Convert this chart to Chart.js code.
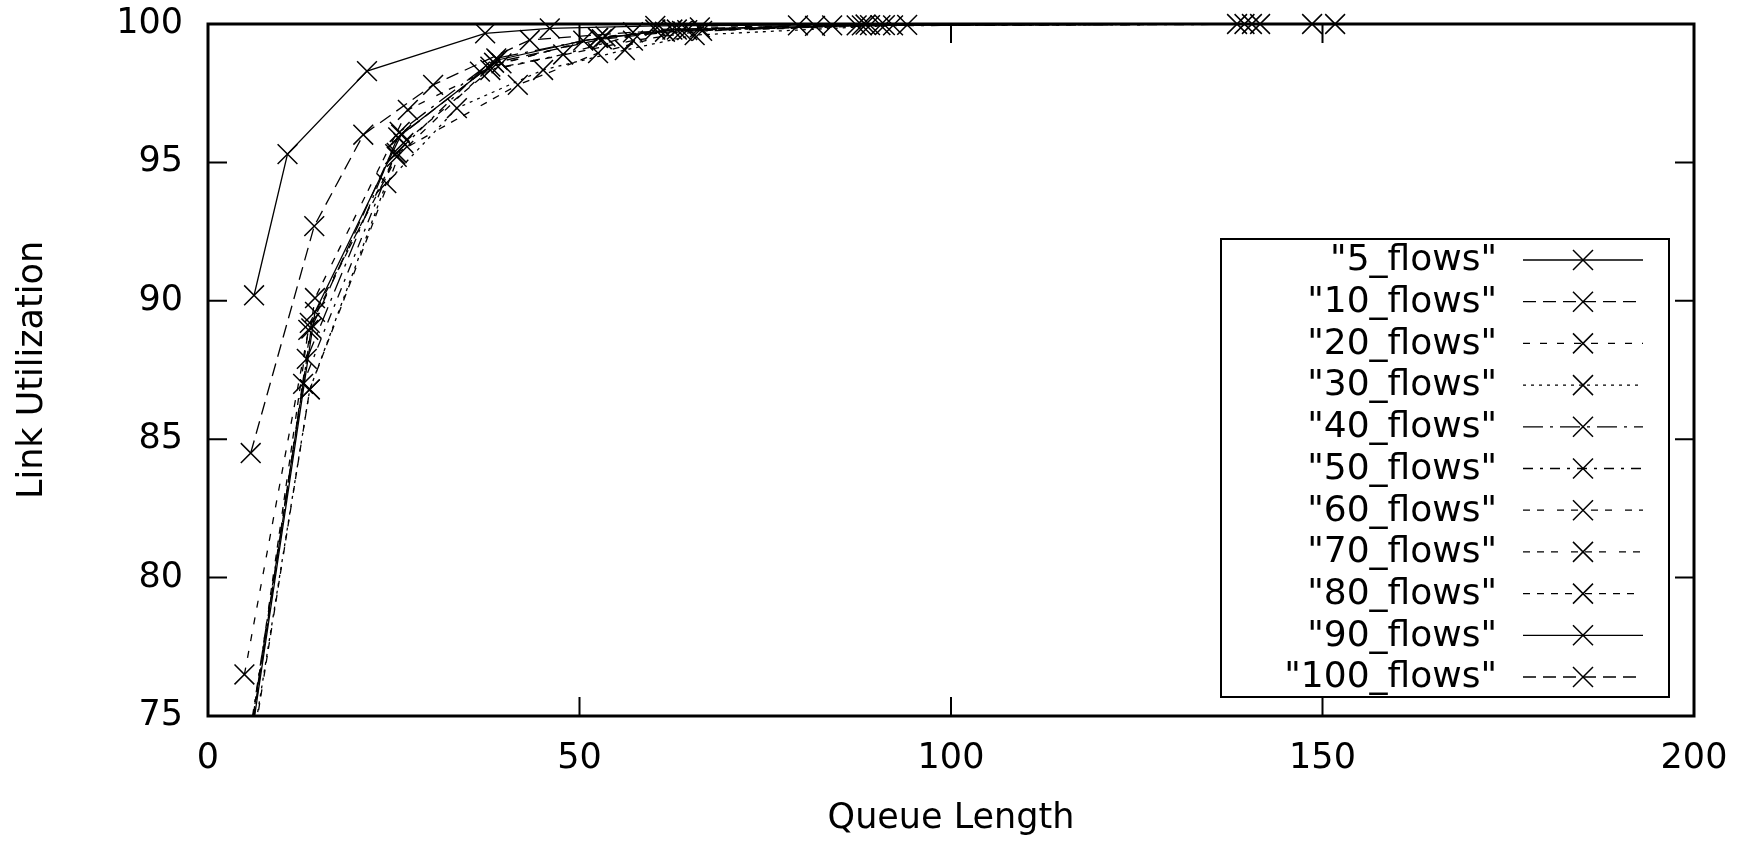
<!DOCTYPE html>
<html>
<head>
<meta charset="utf-8">
<title>Link Utilization</title>
<script src="https://cdn.jsdelivr.net/npm/chart.js@4.4.1/dist/chart.umd.min.js"></script>
<style>
  body { margin: 0; background: #fff; }
  #wrap { width: 1748px; height: 843px; position: relative; }
</style>
</head>
<body>
<div id="wrap"><canvas id="util_graph"></canvas></div>
<script>
  // queue length (q) and link utilization (u), one pair per run
  const q5 = [6.2, 10.7, 21.4, 37.3, 46.0, 60.2, 88.5, 141.6];
  const u5 = [90.2, 95.3, 98.3, 99.66, 99.84, 99.93, 99.98, 100];

  const q10 = [5.75, 14.3, 20.9, 30.3, 43.3, 57.2, 79.4, 139.5];
  const u10 = [84.5, 92.7, 96.0, 97.8, 99.42, 99.7, 99.95, 100];

  const q20 = [4.9, 13.7, 25.4, 38.0, 52.5, 63.1, 84.0, 148.6];
  const u20 = [76.5, 89.2, 95.2, 98.46, 99.5, 99.8, 99.95, 100];

  const q30 = [4.8, 13.7, 24.0, 33.5, 45.1, 56.1, 65.5, 92.2];
  const u30 = [72.0, 86.8, 94.25, 96.96, 98.34, 99.06, 99.6, 99.95];

  const q40 = [4.4, 13.3, 25.8, 38.8, 52.5, 61.5, 87.3, 140.5];
  const u40 = [72.0, 87.9, 96.1, 98.76, 99.5, 99.72, 99.95, 100];

  const q50 = [4.3, 12.8, 25.2, 36.6, 47.8, 60.2, 81.7, 151.7];
  const u50 = [72.0, 87.0, 95.3, 98.28, 98.9, 99.8, 99.93, 100];

  const q60 = [4.6, 14.4, 26.9, 39.5, 53.5, 66.2, 89.1];
  const u60 = [72.0, 90.1, 96.9, 98.58, 99.55, 99.88, 99.96];

  const q70 = [4.5, 13.5, 25.4, 41.7, 52.5, 63.8, 91.1];
  const u70 = [72.0, 88.95, 95.34, 97.8, 98.95, 99.75, 99.96];

  const q80 = [4.9, 13.7, 26.3, 38.0, 57.2, 66.5, 94.1];
  const u80 = [72.0, 86.8, 95.7, 98.34, 99.4, 99.75, 99.97];

  const q90 = [4.6, 14.4, 26.0, 39.0, 50.5, 62.5, 88.0, 138.5];
  const u90 = [72.0, 89.6, 96.0, 98.7, 99.4, 99.8, 99.95, 100];

  const q100 = [4.5, 13.9, 25.6, 38.5, 53.0, 64.5, 90.5];
  const u100 = [72.0, 89.0, 95.9, 98.6, 99.45, 99.78, 99.96];

  const names = ['"5_flows"', '"10_flows"', '"20_flows"', '"30_flows"', '"40_flows"', '"50_flows"',
                 '"60_flows"', '"70_flows"', '"80_flows"', '"90_flows"', '"100_flows"'];
  const runs = [[q5, u5], [q10, u10], [q20, u20], [q30, u30], [q40, u40], [q50, u50],
                [q60, u60], [q70, u70], [q80, u80], [q90, u90], [q100, u100]];

  const xTicks = [0, 50, 100, 150, 200];
  const yTicks = [75, 80, 85, 90, 95, 100];

  // gnuplot-ish line types
  const dashes = [[], [13, 7], [7, 10], [3, 5], [20, 7, 3, 7], [10, 7, 3, 7],
                  [7, 7, 7, 13], [7, 7, 7, 7, 7, 13], [7, 7, 7, 7, 7, 7, 7, 13], [], [13, 7]];

  const FONT = 'DejaVu Sans';
  const TICK_LEN = 19;

  // inner tick marks on all four sides + thick frame
  const frame = {
    id: 'frame',
    afterDatasetsDraw(chart) {
      const {ctx, chartArea: a, scales: {x, y}} = chart;
      ctx.save();
      ctx.strokeStyle = '#000';
      ctx.lineWidth = 2;
      ctx.beginPath();
      x.ticks.forEach(t => {
        const px = x.getPixelForValue(t.value);
        ctx.moveTo(px, a.bottom); ctx.lineTo(px, a.bottom - TICK_LEN);
        ctx.moveTo(px, a.top); ctx.lineTo(px, a.top + TICK_LEN);
      });
      y.ticks.forEach(t => {
        const py = y.getPixelForValue(t.value);
        ctx.moveTo(a.left, py); ctx.lineTo(a.left + TICK_LEN, py);
        ctx.moveTo(a.right, py); ctx.lineTo(a.right - TICK_LEN, py);
      });
      ctx.stroke();
      ctx.lineWidth = 3;
      ctx.strokeRect(a.left, a.top, a.width, a.height);
      ctx.restore();
    }
  };

  // key box, text right-aligned in front of the sample
  const keyBox = {
    id: 'keyBox',
    afterDraw(chart) {
      const {ctx, chartArea: a} = chart;
      const sets = chart.data.datasets;
      const w = 448, h = 458, rowH = 41.7;
      const left = a.right - 25 - w, top = a.bottom - 19 - h;
      ctx.save();
      ctx.strokeStyle = '#000';
      ctx.fillStyle = '#000';
      ctx.lineWidth = 2;
      ctx.strokeRect(left, top, w, h);
      ctx.font = '36px "' + FONT + '"';
      ctx.textAlign = 'right';
      ctx.textBaseline = 'middle';
      sets.forEach((ds, i) => {
        const yy = top + 21 + i * rowH;
        ctx.fillText(ds.label, left + 276, yy + 1);
        ctx.lineWidth = 1.3;
        ctx.setLineDash(ds.borderDash);
        ctx.beginPath();
        ctx.moveTo(left + 302, yy); ctx.lineTo(left + 422, yy);
        ctx.stroke();
        ctx.setLineDash([]);
        ctx.lineWidth = 1.5;
        ctx.beginPath();
        ctx.moveTo(left + 352, yy - 10); ctx.lineTo(left + 372, yy + 10);
        ctx.moveTo(left + 352, yy + 10); ctx.lineTo(left + 372, yy - 10);
        ctx.stroke();
      });
      ctx.restore();
    }
  };

  Chart.defaults.font.family = FONT;
  Chart.defaults.font.size = 35;
  Chart.defaults.color = '#000';

  const ctx = document.getElementById('util_graph');

  new Chart(ctx, {
    type: 'line',
    data: {
      datasets: runs.map(([q, u], i) => ({
        label: names[i],
        data: q.map((v, j) => ({x: v, y: u[j]})),
        borderColor: '#000',
        borderWidth: 1.3,
        borderDash: dashes[i],
        pointStyle: 'crossRot',
        pointRadius: 14,
        pointBorderWidth: 1.5,
        pointBorderColor: '#000',
        fill: false,
        tension: 0,
        clip: {left: 0, top: false, right: 0, bottom: 0}
      }))
    },
    options: {
      responsive: true,
      maintainAspectRatio: false,
      animation: false,
      layout: {padding: {top: 24, right: 54, left: 0, bottom: 0}},
      plugins: {legend: {display: false}, tooltip: {enabled: false}},
      scales: {
        x: {
          type: 'linear',
          min: 0, max: 200,
          afterBuildTicks: s => { s.ticks = xTicks.map(v => ({value: v})); },
          afterFit: s => { s.height = 127; s.paddingLeft = 0; s.paddingRight = 0; },
          grid: {display: false, drawTicks: false},
          border: {display: false},
          ticks: {padding: 22, maxRotation: 0},
          title: {display: true, text: 'Queue Length', padding: {top: 0, bottom: 3}}
        },
        y: {
          type: 'linear',
          min: 75, max: 100,
          afterBuildTicks: s => { s.ticks = yTicks.map(v => ({value: v})); },
          afterFit: s => { s.width = 208; s.paddingTop = 0; s.paddingBottom = 0; },
          grid: {display: false, drawTicks: false},
          border: {display: false},
          ticks: {padding: 25},
          title: {display: true, text: 'Link Utilization', padding: {top: 12, bottom: 0}}
        }
      }
    },
    plugins: [frame, keyBox]
  });
</script>
</body>
</html>
